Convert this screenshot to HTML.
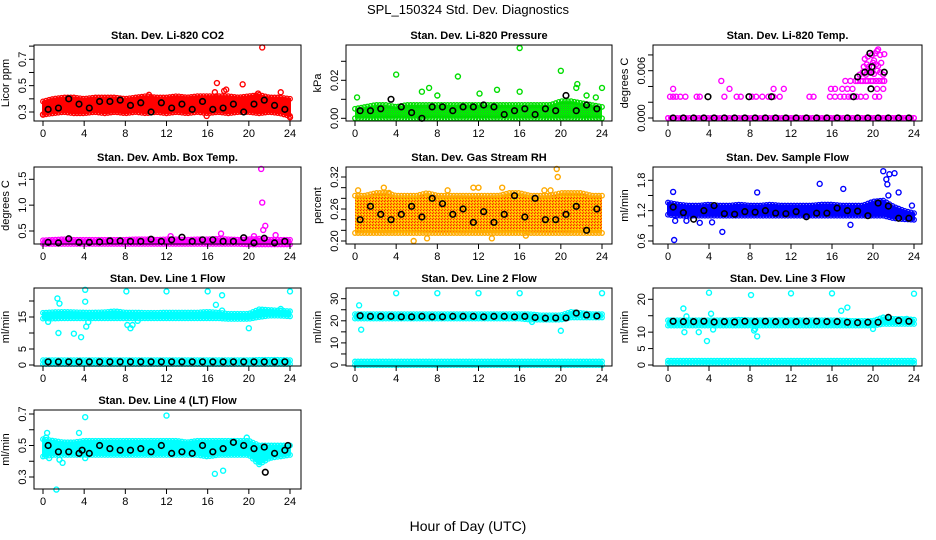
<!DOCTYPE html>
<html><head><meta charset="utf-8"><style>
body{margin:0;background:#fff;}
svg{display:block;font-family:"Liberation Sans",Arial,sans-serif;}
</style></head><body>
<svg id="chart" width="936" height="540" viewBox="0 0 936 540" xmlns="http://www.w3.org/2000/svg">
<defs>
<pattern id="rhpat" width="3" height="3" patternUnits="userSpaceOnUse"><rect width="3" height="3" fill="#ffb000"/><rect width="1" height="1" fill="#ff2000"/><rect x="2" y="1" width="1" height="1" fill="#ffee00"/><rect x="1" y="2" width="1" height="1" fill="#ff4000"/></pattern>
<pattern id="prespat" width="2" height="2" patternUnits="userSpaceOnUse"><rect width="2" height="2" fill="#00ee00"/><rect width="1" height="1" fill="#22bb22"/></pattern>
</defs>
<text x="468" y="14" text-anchor="middle" font-size="13">SPL_150324  Std. Dev. Diagnostics</text>
<text x="468" y="531" text-anchor="middle" font-size="14">Hour of Day (UTC)</text>
</svg>
<script>
const hours=[0,1,2,3,4,5,6,7,8,9,10,11,12,13,14,15,16,17,18,19,20,21,22,23,24];
const meanHours=[0.5,1.5,2.5,3.5,4.5,5.5,6.5,7.5,8.5,9.5,10.5,11.5,12.5,13.5,14.5,15.5,16.5,17.5,18.5,19.5,20.5,21.5,22.5,23.5];
const xTicks=[0,4,8,12,16,20,24];

const co2Lo=[0.28,0.29,0.30,0.29,0.29,0.30,0.29,0.30,0.29,0.30,0.29,0.30,0.29,0.30,0.29,0.30,0.29,0.30,0.29,0.30,0.30,0.29,0.30,0.29,0.27];
const co2Hi=[0.38,0.40,0.41,0.41,0.40,0.41,0.41,0.41,0.40,0.41,0.42,0.41,0.41,0.42,0.41,0.42,0.42,0.42,0.42,0.41,0.42,0.43,0.41,0.41,0.40];
const co2Mean=[0.32,0.33,0.40,0.36,0.33,0.38,0.38,0.39,0.35,0.37,0.30,0.37,0.33,0.36,0.32,0.38,0.32,0.33,0.36,0.30,0.36,0.39,0.35,0.32];
const co2OutX=[21.3,16.9,19.4,23.1,16.7,17.6,24,15.9,0,10.3,17.8,20.9];
const co2OutY=[0.79,0.52,0.51,0.45,0.45,0.46,0.26,0.27,0.28,0.43,0.47,0.44];

const presLo=[0,0,0,0,0,0,0,0,0,0,0,0,0,0,0,0,0,0,0,0,0,0,0,0,0];
const presHi=[0.005,0.006,0.007,0.007,0.006,0.007,0.007,0.007,0.007,0.007,0.007,0.007,0.007,0.007,0.007,0.007,0.007,0.007,0.007,0.007,0.009,0.009,0.008,0.007,0.006];
const presMean=[0.004,0.004,0.005,0.010,0.006,0.003,0.000,0.006,0.006,0.004,0.006,0.006,0.007,0.006,0.002,0.004,0.005,0.002,0.005,0.004,0.012,0.004,0.007,0.005];
const presOutX=[0.2,4,8,10,12.1,13.8,16,16,20,21.6,21.5,22.5,24,7.2,6.5,23.4];
const presOutY=[0.011,0.023,0.012,0.022,0.013,0.015,0.037,0.014,0.025,0.018,0.016,0.012,0.016,0.016,0.014,0.011];

const tempLo=[0,0,0,0,0,0,0,0,0,0,0,0,0,0,0,0,0,0,0,0,0,0,0,0,0];
const tempHi=[0,0,0,0,0,0,0,0,0,0,0,0,0,0,0,0,0,0,0,0,0,0,0,0,0];
const tempMean=[0,0,0,0,0,0,0,0,0,0,0,0,0,0,0,0,0,0,0,0,0,0,0,0];
const tempOutX=[0.2,0.5,0.8,1.2,1.7,2.8,3.1,5.5,6.7,7.1,8.2,8.6,9.2,9.8,10.3,10.9,13.8,14.2,15.8,16.3,16.8,17.2,17.6,17.9,18.4,18.8,19.3,20.2,20.6,
0.5,5.2,6.0,10.3,11.3,15.9,16.3,17.0,17.5,18.0,20.4,21.0,
17.3,17.8,18.3,18.5,18.8,19.0,19.3,19.5,19.8,20.0,20.3,20.6,20.9,21.1,
18.7,19.0,19.3,19.6,19.9,20.1,20.4,20.7,21.0,
19.1,19.4,19.6,20.0,20.3,20.5,20.8,
19.2,19.5,19.9,20.2,20.4,20.7,21.1,20.5,20.1];
const tempOutY=[0.0027,0.0027,0.0027,0.0027,0.0027,0.0027,0.0027,0.0027,0.0027,0.0027,0.0027,0.0027,0.0027,0.0027,0.0027,0.0027,0.0027,0.0027,0.0027,0.0027,0.0027,0.0027,0.0027,0.0027,0.0027,0.0027,0.0027,0.0027,0.0027,
0.0037,0.0047,0.0037,0.0037,0.0037,0.0037,0.0037,0.0037,0.0037,0.0037,0.0037,0.0037,
0.0047,0.0047,0.0047,0.0047,0.0047,0.0047,0.0047,0.0047,0.0047,0.0047,0.0047,0.0047,0.0047,0.0047,
0.0055,0.0058,0.0055,0.0060,0.0058,0.0056,0.0060,0.0058,0.0055,
0.0065,0.0068,0.0065,0.0070,0.0068,0.0066,0.0070,
0.0075,0.0078,0.0080,0.0082,0.0085,0.0080,0.0081,0.0087,0.0073];
const tempBlackX=[3.9,7.9,10.1,18.1,18.5,19.2,19.7,19.8,19.9,19.8,21.1];
const tempBlackY=[0.0027,0.0027,0.0027,0.0027,0.0052,0.0058,0.0082,0.0058,0.0065,0.0037,0.0058];

const ambLo=[0.25,0.25,0.25,0.25,0.25,0.25,0.25,0.25,0.25,0.25,0.25,0.25,0.25,0.25,0.25,0.25,0.25,0.25,0.25,0.25,0.24,0.24,0.24,0.24,0.24];
const ambHi=[0.32,0.33,0.34,0.33,0.33,0.33,0.33,0.33,0.33,0.34,0.34,0.33,0.34,0.34,0.33,0.34,0.34,0.35,0.34,0.33,0.34,0.35,0.33,0.33,0.33];
const ambMean=[0.28,0.27,0.35,0.28,0.28,0.29,0.31,0.31,0.30,0.30,0.34,0.30,0.33,0.38,0.30,0.33,0.33,0.30,0.30,0.37,0.27,0.36,0.27,0.30];
const ambOutX=[21.2,21.3,21.6,21.4,22.6,17.3,12.4,20.5];
const ambOutY=[1.70,1.05,0.60,0.52,0.42,0.45,0.40,0.40];

const rhLo=[0.215,0.215,0.215,0.215,0.215,0.215,0.215,0.215,0.215,0.215,0.215,0.215,0.215,0.215,0.215,0.215,0.215,0.215,0.215,0.215,0.215,0.215,0.215,0.215,0.215];
const rhHi=[0.285,0.285,0.29,0.29,0.285,0.285,0.285,0.29,0.285,0.285,0.285,0.285,0.285,0.285,0.285,0.29,0.29,0.285,0.285,0.285,0.29,0.29,0.29,0.285,0.285];
const rhMean=[0.24,0.265,0.25,0.24,0.25,0.265,0.245,0.28,0.27,0.25,0.26,0.235,0.255,0.235,0.25,0.285,0.245,0.28,0.24,0.24,0.25,0.265,0.22,0.26];
const rhOutX=[19.6,19.7,5.7,7.0,13.3,16.6,2.8,11.5,12.0,14.3,9.0,18.4,19.0,0.3,3.3];
const rhOutY=[0.335,0.32,0.20,0.205,0.205,0.21,0.30,0.30,0.30,0.30,0.295,0.295,0.295,0.295,0.29];

const flowLo=[1.12,1.1,1.1,1.1,1.1,1.1,1.1,1.1,1.1,1.1,1.1,1.1,1.1,1.1,1.1,1.1,1.1,1.1,1.1,1.1,1.1,1.1,1.05,1.03,1.02];
const flowHi=[1.36,1.32,1.3,1.3,1.32,1.3,1.3,1.32,1.3,1.3,1.32,1.3,1.3,1.3,1.3,1.32,1.32,1.3,1.3,1.3,1.38,1.40,1.28,1.2,1.15];
const flowMean=[1.27,1.16,1.03,1.20,1.30,1.14,1.13,1.18,1.17,1.20,1.15,1.14,1.18,1.08,1.15,1.15,1.25,1.20,1.19,1.10,1.35,1.29,1.05,1.05];
const flowOutX=[0.5,0.6,0.7,1.8,3.1,4.3,5.3,8.7,14.8,17.1,17.8,21.0,21.3,21.4,21.6,22.1,22.5,23.8,21.5];
const flowOutY=[1.57,0.62,1.00,1.00,0.96,0.97,0.78,1.56,1.73,1.63,0.92,1.98,1.82,1.72,1.92,1.94,1.56,1.30,1.50];

const l1Lo=[14.5,14.5,14.6,14.6,14.6,14.6,14.6,14.6,14.6,14.6,14.6,14.6,14.6,14.6,14.6,14.6,14.6,14.6,14.4,14.4,14.4,15.0,15.4,15.4,15.2];
const l1Hi=[16.3,16.5,16.6,16.5,16.4,16.4,16.5,16.8,16.4,16.4,16.3,16.3,16.4,16.4,16.4,16.4,16.6,16.4,16.0,16.0,16.0,17.4,17.2,17.0,16.8];
const l1LowLo=[0.3,0.3,0.3,0.3,0.3,0.3,0.3,0.3,0.3,0.3,0.3,0.3,0.3,0.3,0.3,0.3,0.3,0.3,0.3,0.3,0.3,0.3,0.3,0.3,0.3];
const l1LowHi=[1.5,1.5,1.5,1.5,1.5,1.5,1.5,1.5,1.5,1.5,1.5,1.5,1.5,1.5,1.5,1.5,1.5,1.5,1.5,1.5,1.5,1.6,1.6,1.6,1.5];
const l1Mean=[1.0,1.0,1.0,1.0,1.0,1.0,1.0,1.0,1.0,1.0,1.0,1.0,1.0,1.0,1.0,1.0,1.0,1.0,1.0,1.0,1.0,1.0,1.0,1.0];
const l1OutX=[4.1,8.1,12,16,24,1.4,1.6,4.1,1.5,3,3.7,4.2,4.4,8.2,8.5,8.7,9.2,16.8,17.4,17.4,20,23.1,0.5];
const l1OutY=[23.5,23,23,23,23,20.8,19.2,19.8,10,9.8,8.7,12,13.4,12.5,11.5,12.5,13.8,18.8,21.8,17,11.5,17.5,13.5];

const l2Lo=[21,21,21,21,21,21,21,21,21,21,21,21,21,21,21,21,21,20.5,20.5,20.5,20.5,21.5,21.5,21.5,21.5];
const l2Hi=[23,23,23,23,23,23,23,23,23,23,23,23,23,23,23,23,23,23,22.5,22.5,22.5,24,23.5,23,23];
const l2LowLo=[0,0,0,0,0,0,0,0,0,0,0,0,0,0,0,0,0,0,0,0,0,0,0,0,0];
const l2LowHi=[1.6,1.6,1.6,1.6,1.6,1.6,1.6,1.6,1.6,1.6,1.6,1.6,1.6,1.6,1.6,1.6,1.6,1.6,1.6,1.6,1.6,1.6,1.6,1.6,1.6];
const l2Mean=[22.3,22,22,22,21.8,21.8,22,21.8,21.8,22,22,22,21.8,22,22,21.8,22,21.5,21.2,21.3,21.3,23.5,22.6,22.2];
const l2OutX=[4,8,12,16,24,0.4,0.6,17.2,20];
const l2OutY=[32.5,32.5,32.5,32.5,32.5,27,16,19.5,15.5];

const l3Lo=[12,12,12,12,12,12,12,12,12,12,12,12,12,12,12,12,12,12,12,12,12,12.5,12.5,12.5,12.5];
const l3Hi=[13.6,13.6,13.6,13.6,13.6,13.6,13.6,13.8,13.6,13.6,13.6,13.6,13.6,13.6,13.6,13.6,13.6,13.6,13.4,13.4,13.4,14.5,14,14,13.8];
const l3LowLo=[0.5,0.5,0.5,0.5,0.5,0.5,0.5,0.5,0.5,0.5,0.5,0.5,0.5,0.5,0.5,0.5,0.5,0.5,0.5,0.5,0.5,0.5,0.5,0.5,0.5];
const l3LowHi=[1.3,1.3,1.3,1.3,1.3,1.3,1.3,1.3,1.3,1.3,1.3,1.3,1.3,1.3,1.3,1.3,1.3,1.3,1.3,1.3,1.3,1.3,1.3,1.3,1.3];
const l3Mean=[13.3,13.2,13.2,13.3,13.1,13.2,13.1,13.3,13.2,13.3,13.2,13.2,13.2,13.3,13.3,13.2,13.2,13.0,12.9,13.0,13.0,14.5,13.5,13.3];
const l3OutX=[4,8.1,12,16,24,1.5,1.8,1.6,3,3.8,4.2,4.4,8.4,8.7,8.5,16.9,17.5,0.3,20,23.3];
const l3OutY=[22,21.3,21.8,21.8,21.7,17.2,14.8,10,10,7.3,15.6,10.8,10.5,8.7,11,16.5,17.5,13.5,11,14];

const l4Lo=[0.43,0.44,0.44,0.44,0.44,0.44,0.44,0.44,0.44,0.44,0.44,0.44,0.44,0.44,0.44,0.44,0.43,0.44,0.44,0.44,0.44,0.38,0.42,0.43,0.44];
const l4Hi=[0.54,0.53,0.52,0.52,0.53,0.53,0.53,0.53,0.53,0.53,0.53,0.53,0.53,0.53,0.52,0.53,0.53,0.53,0.53,0.53,0.53,0.50,0.50,0.50,0.50];
const l4Mean=[0.50,0.46,0.46,0.45,0.45,0.50,0.48,0.47,0.47,0.48,0.46,0.50,0.45,0.46,0.45,0.50,0.46,0.48,0.52,0.50,0.48,0.49,0.45,0.47];
const l4OutX=[1.3,4.1,12,3.5,0.4,16.7,17.5,0.6,1.6,1.9,4.1,19.8,0.3];
const l4OutY=[0.22,0.68,0.69,0.58,0.58,0.32,0.34,0.42,0.41,0.39,0.42,0.55,0.55];
const l4BlackX=[21.6,23.8,3.8];
const l4BlackY=[0.33,0.50,0.47];

const NS='http://www.w3.org/2000/svg';
const svg=document.getElementById('chart');
const cols=[{l:34,r:301,x0:43,x24:290},{l:346,r:612,x0:355,x24:602},{l:653,r:922,x0:668,x24:914}];
const rows=[{t:45,b:121},{t:167,b:244},{t:288,b:366},{t:410,b:489}];
function mk(tag,attrs,parent){const e=document.createElementNS(NS,tag);for(const k in attrs)e.setAttribute(k,attrs[k]);(parent||svg).appendChild(e);return e;}
function interp(arr,h){const i=Math.min(Math.floor(h),23);const f=h-i;return arr[i]*(1-f)+arr[i+1]*f;}

function panel(p){
  const c=cols[p.col],r=rows[p.row];
  const g=mk('g',{});
  
  
  const xs=h=>c.x0+(c.x24-c.x0)*h/24;
  const k=(p.refs[1][1]-p.refs[0][1])/(p.refs[1][0]-p.refs[0][0]);
  const ys=v=>p.refs[0][1]+(v-p.refs[0][0])*k;
  const t=mk('text',{x:(c.l+c.r)/2,y:r.t-6,'text-anchor':'middle','font-size':11,'font-weight':'bold'},g);
  t.textContent=p.title;
  
  
  const yl=mk('text',{transform:`translate(${c.l-25},${(r.t+r.b)/2}) rotate(-90)`,'text-anchor':'middle','font-size':11},g);
  yl.textContent=p.ylab;
  
  
  p.bands.forEach(b=>{
    let pts=[];
    for(let h=0;h<=24.001;h+=0.25)pts.push(xs(h)+','+ys(interp(b.hi,h)));
    for(let h=24;h>=-0.001;h-=0.25)pts.push(xs(h)+','+ys(interp(b.lo,h)));
    const pg=mk('polygon',{points:pts.join(' '),fill:p.fill||p.color,stroke:p.fill?'none':p.color,'stroke-width':2},g);
    
    
    for(let h=0;h<=24.001;h+=0.3){
      [interp(b.hi,h),interp(b.lo,h)].forEach(v=>{
        const ci=mk('circle',{cx:xs(h),cy:ys(v),r:2.3,fill:'none',stroke:p.color,'stroke-width':1.3},g);
        
        
      });
    }
  });
  p.outX.forEach((x,i)=>{
    const ci=mk('circle',{cx:xs(x),cy:ys(p.outY[i]),r:2.5,fill:'none',stroke:p.color,'stroke-width':1.4},g);
    
    
  });
  p.mean.forEach((v,i)=>{
    const ci=mk('circle',{cx:xs(meanHours[i]),cy:ys(v),r:2.8,fill:'none',stroke:'#000','stroke-width':1.6},g);
    
    
  });
  (p.bx||[]).forEach((x,i)=>{
    const ci=mk('circle',{cx:xs(x),cy:ys(p.by[i]),r:2.8,fill:'none',stroke:'#000','stroke-width':1.6},g);
    
    
  });
  const box=mk('rect',{x:c.l,y:r.t,width:c.r-c.l,height:r.b-r.t,fill:'none',stroke:'#000','stroke-width':1},g);
  
  
  xTicks.forEach(v=>{
    mk('line',{x1:xs(v),x2:xs(v),y1:r.b,y2:r.b+5,stroke:'#000'},g);
    const tl=mk('text',{x:xs(v),y:r.b+16,'text-anchor':'middle','font-size':11},g);
    tl.textContent=v;
    
    
  });
  p.ticks.forEach(v=>{
    const y=ys(v); if(y<r.t-0.5||y>r.b+0.5)return;
    mk('line',{x1:c.l-5,x2:c.l,y1:y,y2:y,stroke:'#000'},g);
  });
  p.labels.forEach(v=>{
    const tl=mk('text',{transform:`translate(${c.l-8},${ys(v)}) rotate(-90)`,'text-anchor':'middle','font-size':11},g);
    tl.textContent=v;
    
    
  });
}

panel({name:'panel-co2',col:0,row:0,title:'Stan. Dev. Li-820 CO2',ylab:'Licor ppm',refs:[[0.3,112],[0.7,59.3]],ticks:[0.3,0.4,0.5,0.6,0.7,0.8],labels:['0.3','0.5','0.7'],color:'#ff0000',bands:[{lo:co2Lo,hi:co2Hi}],mean:co2Mean,outX:co2OutX,outY:co2OutY});
panel({name:'panel-pressure',col:1,row:0,title:'Stan. Dev. Li-820 Pressure',ylab:'kPa',refs:[[0,118.3],[0.02,80.3]],ticks:[0,0.01,0.02,0.03],labels:['0.00','0.02'],color:'#00dd00',fill:'url(#prespat)',bands:[{lo:presLo,hi:presHi}],mean:presMean,outX:presOutX,outY:presOutY});
panel({name:'panel-temp',col:2,row:0,title:'Stan. Dev. Li-820 Temp.',ylab:'degrees C',refs:[[0,118],[0.006,70.7]],ticks:[0,0.002,0.004,0.006,0.008],labels:['0.000','0.006'],color:'#ff00ff',bands:[{lo:tempLo,hi:tempHi}],mean:tempMean,outX:tempOutX,outY:tempOutY,bx:tempBlackX,by:tempBlackY});
panel({name:'panel-amb-box-temp',col:0,row:1,title:'Stan. Dev. Amb. Box Temp.',ylab:'degrees C',refs:[[0.5,231],[1.5,179.3]],ticks:[0.5,1,1.5],labels:['0.5','1.0','1.5'],color:'#ff00ff',bands:[{lo:ambLo,hi:ambHi}],mean:ambMean,outX:ambOutX,outY:ambOutY});
panel({name:'panel-gas-rh',col:1,row:1,title:'Stan. Dev. Gas Stream RH',ylab:'percent',refs:[[0.20,241],[0.32,177]],ticks:[0.20,0.22,0.24,0.26,0.28,0.30,0.32],labels:['0.20','0.26','0.32'],color:'#ffaa00',fill:'url(#rhpat)',bands:[{lo:rhLo,hi:rhHi}],mean:rhMean,outX:rhOutX,outY:rhOutY});
panel({name:'panel-sample-flow',col:2,row:1,title:'Stan. Dev. Sample Flow',ylab:'ml/min',refs:[[0.6,241],[1.8,180.3]],ticks:[0.6,0.9,1.2,1.5,1.8],labels:['0.6','1.2','1.8'],color:'#0000ff',bands:[{lo:flowLo,hi:flowHi}],mean:flowMean,outX:flowOutX,outY:flowOutY});
panel({name:'panel-line1-flow',col:0,row:2,title:'Stan. Dev. Line 1 Flow',ylab:'ml/min',refs:[[0,365],[15,317]],ticks:[0,5,10,15,20],labels:['0','5','15'],color:'#00ffff',bands:[{lo:l1Lo,hi:l1Hi},{lo:l1LowLo,hi:l1LowHi}],mean:l1Mean,outX:l1OutX,outY:l1OutY});
panel({name:'panel-line2-flow',col:1,row:2,title:'Stan. Dev. Line 2 Flow',ylab:'ml/min',refs:[[0,365],[30,298.7]],ticks:[0,5,10,15,20,25,30],labels:['0','10','20','30'],color:'#00ffff',bands:[{lo:l2Lo,hi:l2Hi},{lo:l2LowLo,hi:l2LowHi}],mean:l2Mean,outX:l2OutX,outY:l2OutY});
panel({name:'panel-line3-flow',col:2,row:2,title:'Stan. Dev. Line 3 Flow',ylab:'ml/min',refs:[[0,365],[20,299.3]],ticks:[0,5,10,15,20],labels:['0','5','10','20'],color:'#00ffff',bands:[{lo:l3Lo,hi:l3Hi},{lo:l3LowLo,hi:l3LowHi}],mean:l3Mean,outX:l3OutX,outY:l3OutY});
panel({name:'panel-line4-flow',col:0,row:3,title:'Stan. Dev. Line 4 (LT) Flow',ylab:'ml/min',refs:[[0.3,477],[0.7,414]],ticks:[0.3,0.4,0.5,0.6,0.7],labels:['0.3','0.5','0.7'],color:'#00ffff',bands:[{lo:l4Lo,hi:l4Hi}],mean:l4Mean,outX:l4OutX,outY:l4OutY,bx:l4BlackX,by:l4BlackY});
</script>
</body></html>
